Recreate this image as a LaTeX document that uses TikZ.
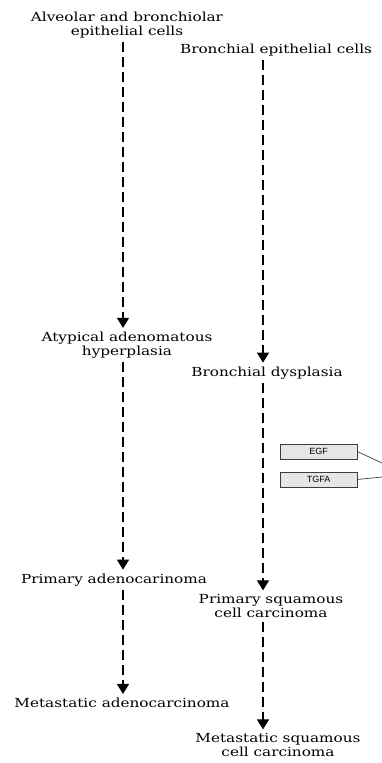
\documentclass[tikz,border=0pt]{standalone}
\usepackage{fontspec}
\newfontfamily\stagefont[FakeStretch=1.22]{DejaVu Serif}
\newfontfamily\boxfont{Liberation Sans}
\usetikzlibrary{arrows.meta}

\begin{document}
\begin{tikzpicture}[x=1pt,y=1pt,yscale=-1,xscale=1,
  stage/.style={align=center,inner sep=1pt,font=\stagefont\fontsize{12.5}{13.5}\selectfont},
  flow/.style={line width=1.1pt,dash pattern=on 10pt off 5pt,-{Triangle[width=12pt,length=10pt]}},
  factor/.style={draw={rgb,255:red,60;green,60;blue,60},fill={rgb,255:red,230;green,230;blue,230},line width=0.7pt,minimum width=77pt,minimum height=15pt,inner sep=0pt,font=\boxfont\fontsize{9}{10}\selectfont},
  link/.style={draw={rgb,255:red,60;green,60;blue,60},line width=0.7pt}]
\useasboundingbox (0,0) rectangle (382,763);

%Columns
\coordinate (lcol) at (123,0);
\coordinate (rcol) at (263,0);

%Text Nodes
\node[stage] (alv) at (127,25) {Alveolar and bronchiolar\\epithelial cells};
\node[stage] (bec) at (276,50) {Bronchial epithelial cells};
\node[stage] (aah) at (127,345) {Atypical adenomatous\\hyperplasia};
\node[stage] (bd) at (267,373) {Bronchial dysplasia};
\node[stage] (pa) at (114,580) {Primary adenocarinoma};
\node[stage] (psc) at (271,606) {Primary squamous\\cell carcinoma};
\node[stage] (ma) at (122,703) {Metastatic adenocarcinoma};
\node[stage] (msc) at (278,745) {Metastatic squamous\\cell carcinoma};

%Straight Lines
\draw[flow] ([yshift=3pt]alv.south -| lcol) -- ([yshift=-3pt]aah.north -| lcol);
\draw[flow] ([yshift=3pt]aah.south -| lcol) -- ([yshift=-3pt]pa.north -| lcol);
\draw[flow] ([yshift=3pt]pa.south -| lcol) -- ([yshift=-3pt]ma.north -| lcol);
\draw[flow] ([yshift=3pt]bec.south -| rcol) -- ([yshift=-3pt]bd.north -| rcol);
\draw[flow] ([yshift=3pt]bd.south -| rcol) -- ([yshift=-3pt]psc.north -| rcol);
\draw[flow] ([yshift=3pt]psc.south -| rcol) -- ([yshift=-3pt]msc.north -| rcol);

%Shape: Rectangle
\node[factor] (egf) at (318.5,451.5) {EGF};
\node[factor] (tgfa) at (318.5,479.5) {TGFA};
\coordinate (egfend) at (382,463);
\coordinate (tgfaend) at (382,477);
\draw[link] (egf.east) -- (egfend);
\draw[link] (tgfa.east) -- (tgfaend);

\end{tikzpicture}
\end{document}
